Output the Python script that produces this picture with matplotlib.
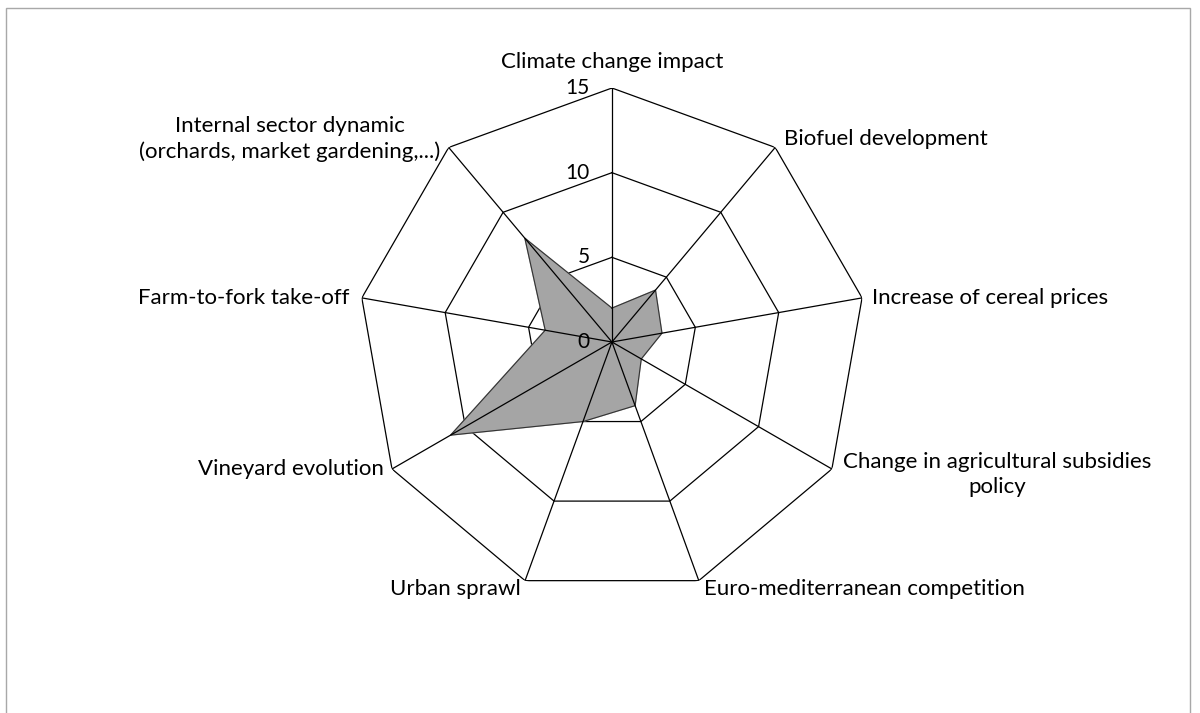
#!/usr/bin/env python
# -*- coding: utf-8 -*-

import numpy as np
import matplotlib
matplotlib.use("Agg")
import matplotlib.pyplot as plt
from matplotlib.patches import Rectangle

# radar data
labels = [
	"Climate change impact",
	"Biofuel development",
	"Increase of cereal prices",
	"Change in agricultural subsidies\npolicy",
	"Euro-mediterranean competition",
	"Urban sprawl",
	"Vineyard evolution",
	"Farm-to-fork take-off",
	"Internal sector dynamic\n(orchards, market gardening,...)",
]
values = [2, 4, 3, 2, 4, 5, 11, 4, 8]
ring_levels = [0, 5, 10, 15]

# label placement: offset (points) from the outer vertex + alignment
label_pos = [
	((0, 19), "center", "center"),
	((6, 6), "left", "center"),
	((7, 0), "left", "center"),
	((8, -4), "left", "center"),
	((4, -6), "left", "center"),
	((-3, -6), "right", "center"),
	((-6, 0), "right", "center"),
	((-9, 0), "right", "center"),
	((-6, 6), "right", "center"),
]

plt.rcParams['font.family'] = ['Lato', 'DejaVu Sans']


def main():
	n = len(labels)
	angles = np.arange(n) * 2 * np.pi / n
	closed = np.append(angles, angles[0])

	fig = plt.figure(figsize=(12, 7.13), dpi=100)
	fig.patches.append(Rectangle((6 / 1200, -0.1), 1184 / 1200, 1.1 - 8 / 713,
		transform=fig.transFigure, fill=False, edgecolor="#a8a8a8", lw=1.0))

	ax = fig.add_axes([0.2983, 0.1641, 0.4233, 0.7125], projection="polar")
	ax.set_theta_zero_location("N")
	ax.set_theta_direction(-1)
	ax.set_ylim(0, 15)
	ax.grid(False)
	ax.spines["polar"].set_visible(False)
	ax.set_xticks([])
	ax.set_yticks([])
	ax.patch.set_alpha(0)

	# nonagon rings (under the fill)
	for lev in ring_levels[1:]:
		ax.plot(closed, [lev] * (n + 1), color="black", lw=0.9, zorder=1)

	# data polygon
	vals = np.append(values, values[0])
	ax.fill(closed, vals, color="#a5a5a5", zorder=2)
	ax.plot(closed, vals, color="#333333", lw=0.8, zorder=3)

	# spokes (on top of the fill)
	for a in angles:
		ax.plot([a, a], [0, ring_levels[-1]], color="black", lw=0.9, zorder=4)

	# radial tick labels
	for lev in ring_levels:
		ax.annotate(str(lev), xy=(0, lev), xytext=(-16, 0), textcoords="offset points",
			ha="right", va="center", fontsize=15)

	for a, lab, (off, ha, va) in zip(angles, labels, label_pos):
		ax.annotate(lab, xy=(a, ring_levels[-1]), xytext=off, textcoords="offset points",
			ha=ha, va=va, multialignment="center", fontsize=16, linespacing=1.3,
			annotation_clip=False)

	fig.savefig("out.png", dpi=100)


if __name__ == '__main__':
	main()
